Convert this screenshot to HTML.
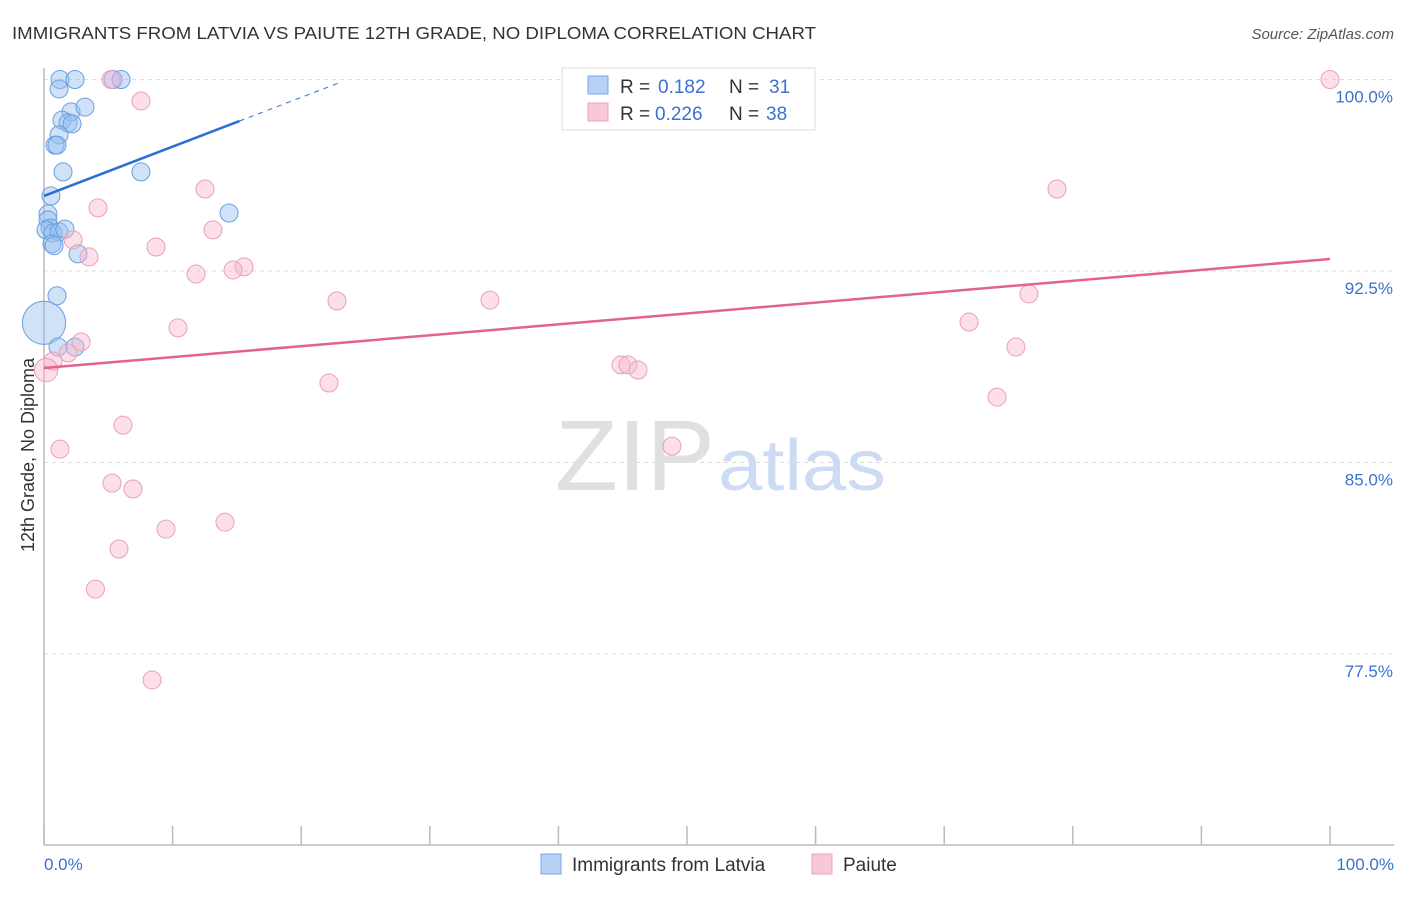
<!DOCTYPE html>
<html><head><meta charset="utf-8"><style>
body{margin:0;background:#fff;font-family:"Liberation Sans",sans-serif}
svg text{font-family:"Liberation Sans",sans-serif}
</style></head><body>
<svg id="chart" width="1406" height="892">
<text x="12" y="39" font-size="17.5" fill="#333" textLength="804" lengthAdjust="spacingAndGlyphs">IMMIGRANTS FROM LATVIA VS PAIUTE 12TH GRADE, NO DIPLOMA CORRELATION CHART</text>
<text x="1394" y="39" font-size="15" fill="#555" font-style="italic" text-anchor="end">Source: ZipAtlas.com</text>
<g id="grid"></g>
<text x="715" y="490" font-size="100" fill="#e0e0e0" text-anchor="end" font-family="Liberation Serif" textLength="160" lengthAdjust="spacingAndGlyphs">ZIP</text>
<text x="718" y="490" font-size="72" fill="#cddcf2" textLength="168" lengthAdjust="spacingAndGlyphs">atlas</text>
<text transform="translate(34,455) rotate(-90)" font-size="18" fill="#333" text-anchor="middle">12th Grade, No Diploma</text>
<g id="marks"></g>
<g>
<rect x="562" y="68" width="253" height="62" fill="#fff" stroke="#ddd"/>
<rect x="588" y="76" width="20" height="18" fill="#b6d1f5" stroke="#7aa8e4"/>
<rect x="588" y="103" width="20" height="18" fill="#f9c8d8" stroke="#eca5bd"/>
<text x="620" y="93" font-size="19" fill="#333">R =</text>
<text x="658" y="93" font-size="19" fill="#3a72d0">0.182</text>
<text x="729" y="93" font-size="19" fill="#333">N =</text>
<text x="769" y="93" font-size="19" fill="#3a72d0">31</text>
<text x="620" y="120" font-size="19" fill="#333">R =</text>
<text x="655" y="120" font-size="19" fill="#3a72d0">0.226</text>
<text x="729" y="120" font-size="19" fill="#333">N =</text>
<text x="766" y="120" font-size="19" fill="#3a72d0">38</text>
</g>
<g>
<rect x="541" y="854" width="20" height="20" fill="#b6d1f5" stroke="#7aa8e4"/>
<text x="572" y="871" font-size="19" fill="#333">Immigrants from Latvia</text>
<rect x="812" y="854" width="20" height="20" fill="#f9c8d8" stroke="#eca5bd"/>
<text x="843" y="871" font-size="19" fill="#333">Paiute</text>
</g>
</svg>
<script>
const yTicks=[100,92.5,85,77.5];
const yTickLabels=["100.0%","92.5%","85.0%","77.5%"];
const xTickLabels=["0.0%","100.0%"];
const latviaX=[1.24,2.41,5.37,5.99,1.17,2.10,3.19,1.40,1.87,2.18,1.17,0.86,1.01,1.48,7.54,0.54,0.31,0.31,0.47,0.16,0.70,1.17,1.63,0.62,0.78,2.64,1.01,0,1.09,2.41,14.39];
const latviaY=[100,100,100,100,99.63,98.73,98.92,98.41,98.30,98.26,97.83,97.43,97.43,96.38,96.38,95.44,94.73,94.50,94.18,94.11,93.99,94.03,94.14,93.57,93.49,93.17,91.53,90.47,89.52,89.52,94.77];
const latviaSize=[1,1,1,1,1,1,1,1,1,1,1,1,1,1,1,1,1,1,1,1,1,1,1,1,1,1,1,2.4,1,1,1];
const paiuteX=[5.21,100,7.54,12.52,78.77,4.20,13.14,2.26,8.71,3.50,11.82,15.55,14.70,22.78,34.68,76.59,10.42,71.93,2.88,1.87,75.58,0.70,0.16,22.16,44.87,45.41,46.19,74.11,6.14,1.24,48.83,5.29,6.92,9.49,14.07,5.83,4.00,8.40];
const paiuteY=[100,100,99.16,95.71,95.71,94.97,94.11,93.72,93.44,93.05,92.38,92.66,92.54,91.33,91.36,91.60,90.27,90.50,89.72,89.29,89.52,88.97,88.62,88.11,88.82,88.82,88.62,87.56,86.46,85.52,85.64,84.19,83.96,82.39,82.66,81.61,80.04,76.48];
const paiuteSize=[1,1,1,1,1,1,1,1,1,1,1,1,1,1,1,1,1,1,1,1,1,1,1.3,1,1,1,1,1,1,1,1,1,1,1,1,1,1,1];
const latviaTrend=[95.44,0.193];
const latviaTrendEnd=[15.2,23];
const paiuteTrend=[88.70,0.0427];
const NS='http://www.w3.org/2000/svg';
const X=v=>44+v*12.86, Y=v=>79.5+(100-v)*25.53;
const svg=document.getElementById('chart'),grid=document.getElementById('grid'),marks=document.getElementById('marks');
function mk(tag,at,parent){const e=document.createElementNS(NS,tag);for(const k in at)e.setAttribute(k,at[k]);(parent||svg).appendChild(e);return e;}
yTicks.forEach((t,i)=>{
 const l=mk('line',{x1:44,x2:1394,y1:Y(t),y2:Y(t),stroke:'#ddd','stroke-dasharray':'4,4'},grid);
 
 
 const tx=mk('text',{x:1393,y:Y(t)+23,'font-size':17,fill:'#3a72d0','text-anchor':'end'},grid);
 tx.textContent=yTickLabels[i];
 
 
});
const ax=mk('line',{x1:44,x2:44,y1:68,y2:845,stroke:'#bbb','stroke-width':1.5},grid);


const bx=mk('line',{x1:44,x2:1394,y1:845,y2:845,stroke:'#bbb','stroke-width':1.5},grid);


for(let i=0;i<=10;i++){const t=mk('line',{x1:X(i*10),x2:X(i*10),y1:826,y2:845,stroke:'#bbb','stroke-width':1.5},grid);
 
 }
xTickLabels.forEach((s,i)=>{const t=mk('text',{x:i?1394:44,y:870,'font-size':17,fill:'#3a72d0','text-anchor':i?'end':'start'},grid);t.textContent=s;
 
 });
latviaX.forEach((v,i)=>{const c=mk('circle',{cx:X(v),cy:Y(latviaY[i]),r:9*latviaSize[i],fill:'rgba(150,190,240,0.45)',stroke:'#6a9fe0','stroke-width':1},marks);
 
 });
paiuteX.forEach((v,i)=>{const c=mk('circle',{cx:X(v),cy:Y(paiuteY[i]),r:9*paiuteSize[i],fill:'rgba(248,185,205,0.45)',stroke:'#eaa0ba','stroke-width':1},marks);
 
 });
const lt=x=>latviaTrend[0]+latviaTrend[1]*x, pt=x=>paiuteTrend[0]+paiuteTrend[1]*x;
const l1=mk('line',{x1:X(0),y1:Y(lt(0)),x2:X(latviaTrendEnd[0]),y2:Y(lt(latviaTrendEnd[0])),stroke:'#2a6fd6','stroke-width':2.5},marks);


const l2=mk('line',{x1:X(latviaTrendEnd[0]),y1:Y(lt(latviaTrendEnd[0])),x2:X(latviaTrendEnd[1]),y2:Y(lt(latviaTrendEnd[1])),stroke:'#2a6fd6','stroke-width':1,'stroke-dasharray':'5,5'},marks);


const l3=mk('line',{x1:X(0),y1:Y(pt(0)),x2:X(100),y2:Y(pt(100)),stroke:'#e2638e','stroke-width':2.5},marks);


</script>
</body></html>
